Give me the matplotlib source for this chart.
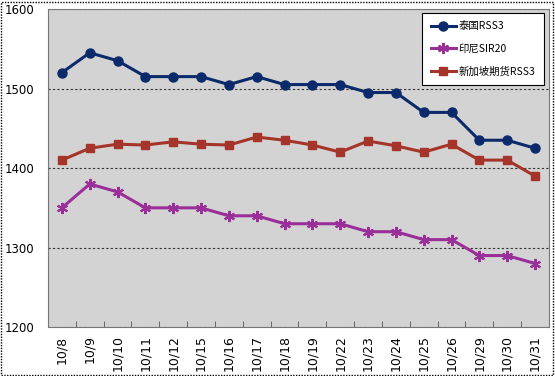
import matplotlib.pyplot as plt
from matplotlib.patches import Rectangle

plt.rcParams['font.family'] = ['Noto Sans CJK SC', 'DejaVu Sans']

dates = ['10/8', '10/9', '10/10', '10/11', '10/12', '10/15', '10/16', '10/17', '10/18',
         '10/19', '10/22', '10/23', '10/24', '10/25', '10/26', '10/29', '10/30', '10/31']
thai_rss3 = [1520, 1545, 1535, 1515, 1515, 1515, 1505, 1515, 1505,
             1505, 1505, 1495, 1495, 1470, 1470, 1435, 1435, 1425]
indo_sir20 = [1350, 1380, 1370, 1350, 1350, 1350, 1340, 1340, 1330,
              1330, 1330, 1320, 1320, 1310, 1310, 1290, 1290, 1280]
sg_rss3 = [1410, 1425, 1430, 1429, 1433, 1430, 1429, 1439, 1435,
           1429, 1420, 1434, 1428, 1420, 1430, 1410, 1410, 1390]

fig = plt.figure(figsize=(5.55, 3.76), dpi=100)
ax = fig.add_axes([0.0865, 0.130, 0.9025, 0.846])
ax.set_facecolor('#d3d3d3')

x = range(len(dates))
ax.plot(x, thai_rss3, color='#0b2a6b', lw=2.2, marker='o', ms=6.5, label='泰国RSS3')
ax.plot(x, indo_sir20, color='#9b2f9a', lw=2.2, marker=(6, 2, 0), ms=8, mew=1.5, label='印尼SIR20')
ax.plot(x, sg_rss3, color='#a5352b', lw=2.2, marker='s', ms=5.5, label='新加坡期货RSS3')

ax.set_ylim(1200, 1600)
ax.set_xlim(-0.5, len(dates) - 0.5)
ax.set_yticks([1200, 1300, 1400, 1500, 1600])
ax.yaxis.grid(True, color='#333333', ls=(0, (2, 2)), lw=0.8)
ax.tick_params(axis='y', length=0, labelsize=8.5, pad=10)

ax.set_xticks(x)
ax.set_xticklabels(dates, rotation=90, fontsize=9)
ax.set_xticks([i + 0.5 for i in range(len(dates) - 1)], minor=True)
ax.tick_params(axis='x', which='major', length=0, pad=6)
ax.tick_params(axis='x', which='minor', length=4, direction='in', color='#555555')
for lab in ax.get_xticklabels() + ax.get_yticklabels():
    lab.set_family('DejaVu Sans')

for s in ax.spines.values():
    s.set_color('#777777')
    s.set_linewidth(0.8)

leg = ax.legend(loc='upper right', fontsize=7.5, fancybox=False, framealpha=1,
                edgecolor='black', handlelength=2.4, handletextpad=0.3, borderpad=0.8,
                labelspacing=1.2, borderaxespad=0, bbox_to_anchor=(0.990, 0.987))
leg.get_frame().set_linewidth(0.8)

fig.patches.append(Rectangle((0.002, 0.003), 0.995, 0.993, transform=fig.transFigure,
                             fill=False, edgecolor='black', lw=1, ls=(0, (1, 1))))

fig.savefig('out.png', dpi=100)
